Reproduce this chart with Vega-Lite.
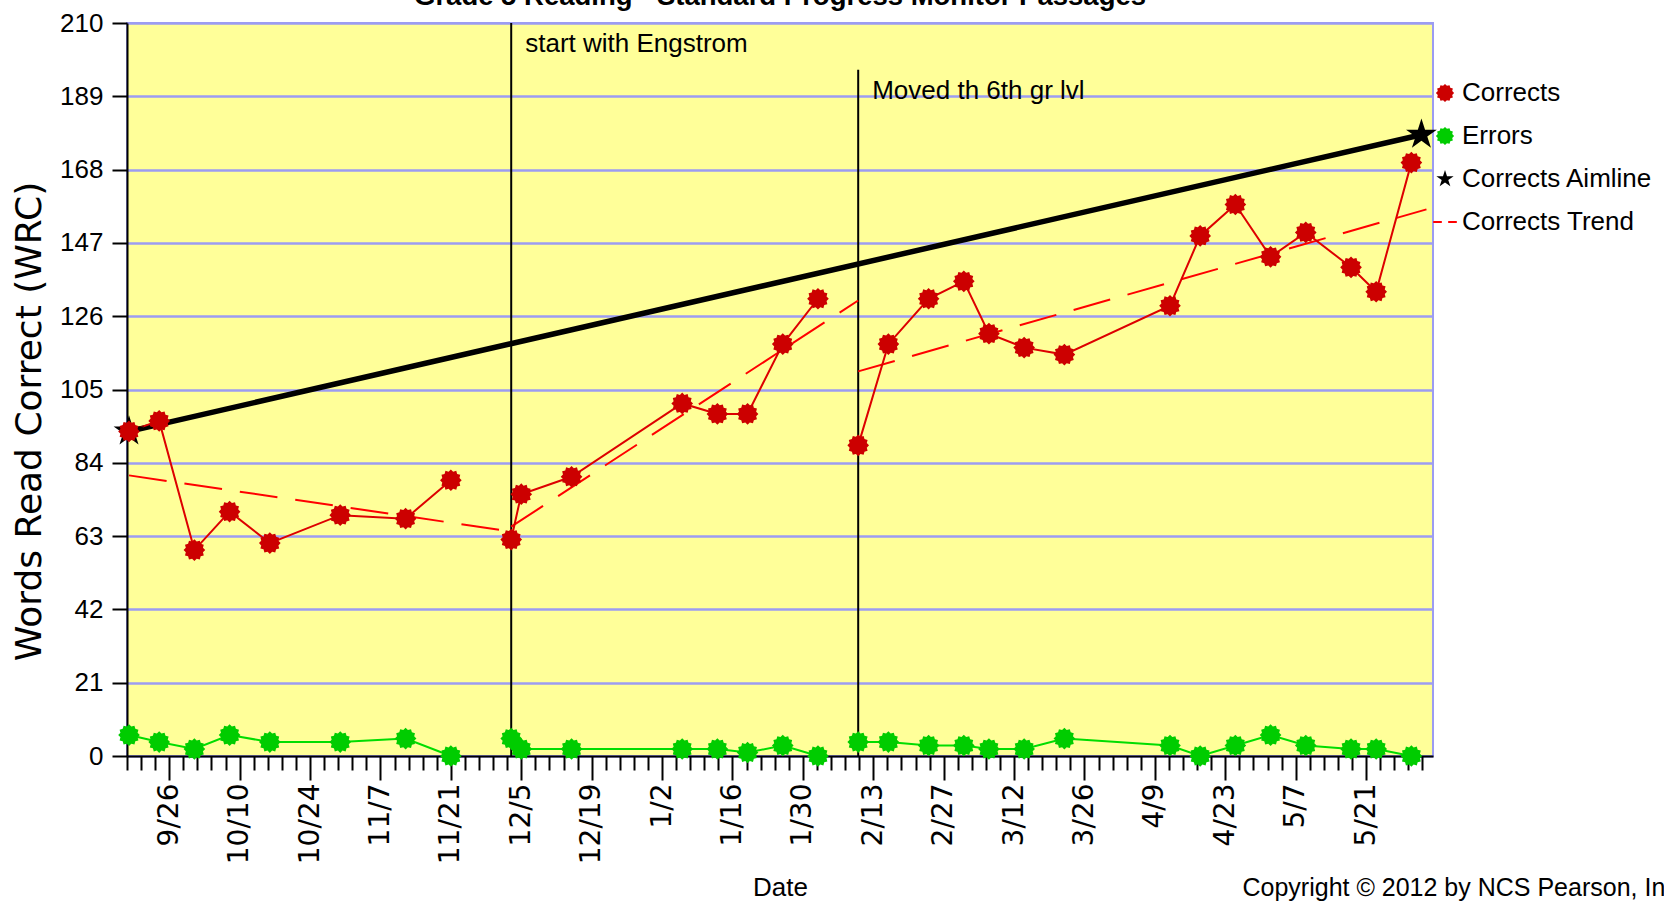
{
  "$schema": "https://vega.github.io/schema/vega-lite/v6.json",
  "width": 1306,
  "height": 733,
  "autosize": {"type": "none"},
  "padding": {"left": 127, "top": 23, "right": 231, "bottom": 145},
  "background": "white",
  "config": {
    "view": {"fill": "#ffff99", "stroke": "#9c9cf2", "strokeWidth": 2},
    "font": "Liberation Sans, Arial, sans-serif"
  },
  "title": {
    "text": "Grade 5 Reading - Standard Progress Monitor Passages",
    "anchor": "middle",
    "frame": "group",
    "font": "Liberation Sans, Arial, sans-serif",
    "fontSize": 27.5,
    "fontWeight": "bold",
    "color": "black",
    "offset": 0
  },
  "datasets": {
    "scores": [
      {"date": "2011-09-18", "phase": 1, "Corrects": 93, "Errors": 6},
      {"date": "2011-09-24", "phase": 1, "Corrects": 96, "Errors": 4},
      {"date": "2011-10-01", "phase": 1, "Corrects": 59, "Errors": 2},
      {"date": "2011-10-08", "phase": 1, "Corrects": 70, "Errors": 6},
      {"date": "2011-10-16", "phase": 1, "Corrects": 61, "Errors": 4},
      {"date": "2011-10-30", "phase": 1, "Corrects": 69, "Errors": 4},
      {"date": "2011-11-12", "phase": 1, "Corrects": 68, "Errors": 5},
      {"date": "2011-11-21", "phase": 1, "Corrects": 79, "Errors": 0},
      {"date": "2011-12-03", "phase": 2, "Corrects": 62, "Errors": 5},
      {"date": "2011-12-05", "phase": 2, "Corrects": 75, "Errors": 2},
      {"date": "2011-12-15", "phase": 2, "Corrects": 80, "Errors": 2},
      {"date": "2012-01-06", "phase": 2, "Corrects": 101, "Errors": 2},
      {"date": "2012-01-13", "phase": 2, "Corrects": 98, "Errors": 2},
      {"date": "2012-01-19", "phase": 2, "Corrects": 98, "Errors": 1},
      {"date": "2012-01-26", "phase": 2, "Corrects": 118, "Errors": 3},
      {"date": "2012-02-02", "phase": 2, "Corrects": 131, "Errors": 0},
      {"date": "2012-02-10", "phase": 3, "Corrects": 89, "Errors": 4},
      {"date": "2012-02-16", "phase": 3, "Corrects": 118, "Errors": 4},
      {"date": "2012-02-24", "phase": 3, "Corrects": 131, "Errors": 3},
      {"date": "2012-03-02", "phase": 3, "Corrects": 136, "Errors": 3},
      {"date": "2012-03-07", "phase": 3, "Corrects": 121, "Errors": 2},
      {"date": "2012-03-14", "phase": 3, "Corrects": 117, "Errors": 2},
      {"date": "2012-03-22", "phase": 3, "Corrects": 115, "Errors": 5},
      {"date": "2012-04-12", "phase": 3, "Corrects": 129, "Errors": 3},
      {"date": "2012-04-18", "phase": 3, "Corrects": 149, "Errors": 0},
      {"date": "2012-04-25", "phase": 3, "Corrects": 158, "Errors": 3},
      {"date": "2012-05-02", "phase": 3, "Corrects": 143, "Errors": 6},
      {"date": "2012-05-09", "phase": 3, "Corrects": 150, "Errors": 3},
      {"date": "2012-05-18", "phase": 3, "Corrects": 140, "Errors": 2},
      {"date": "2012-05-23", "phase": 3, "Corrects": 133, "Errors": 2},
      {"date": "2012-05-30", "phase": 3, "Corrects": 170, "Errors": 0}
    ],
    "trend": [
      {"date": "2011-09-18", "phase": 1, "value": 80.4},
      {"date": "2011-12-03", "phase": 1, "value": 64.3},
      {"date": "2011-12-03", "phase": 2, "value": 65.7},
      {"date": "2012-02-10", "phase": 2, "value": 130.5},
      {"date": "2012-02-10", "phase": 3, "value": 110.2},
      {"date": "2012-06-02", "phase": 3, "value": 156.6}
    ],
    "aim": [
      {"date": "2011-09-18", "value": 93, "series": "Corrects Aimline"},
      {"date": "2012-06-01", "value": 178, "series": "Corrects Aimline"}
    ],
    "phases": [
      {"date": "2011-12-03", "top": 210, "label": "start with Engstrom"},
      {"date": "2012-02-10", "top": 196.6, "label": "Moved th 6th gr lvl"}
    ]
  },
  "resolve": {"axis": {"x": "independent"}},
  "layer": [
    {
      "data": {"name": "phases"},
      "mark": {"type": "rule", "color": "black", "strokeWidth": 2},
      "encoding": {
        "x": {
          "field": "date", "type": "temporal",
          "scale": {"type": "utc", "domain": [1316269440000, 1338707520000]},
          "axis": {
            "values": {"expr": "sequence(1316269440000, 1338707520001, 241920000)"},
            "labelExpr": "abs((datum.value - 1316995200000) / 1209600000 - round((datum.value - 1316995200000) / 1209600000)) < 0.01 ? utcFormat(datum.value, '%-m/%-d') : ''",
            "labelAngle": 270,
            "labelFont": "DejaVu Sans",
            "labelFontSize": 28,
            "labelPadding": 3,
            "labelColor": "black",
            "labelOverlap": false,
            "labelBound": false,
            "labelFlush": false,
            "tickSize": {"condition": {"test": "abs((datum.value - 1316995200000) / 1209600000 - round((datum.value - 1316995200000) / 1209600000)) < 0.01", "value": 24}, "value": 14},
            "tickColor": "black",
            "tickWidth": 2,
            "domainColor": "black",
            "domainWidth": 2,
            "grid": false,
            "title": "Date",
            "titleFont": "Liberation Sans, Arial, sans-serif",
            "titleFontSize": 26,
            "titleFontWeight": "normal",
            "titleColor": "black",
            "titleX": 653,
            "titleY": 139,
            "titleAlign": "center",
            "titleBaseline": "alphabetic"
          }
        },
        "y": {
          "field": "top", "type": "quantitative",
          "scale": {"domain": [0, 210], "nice": false, "zero": false},
          "axis": {
            "values": [0, 21, 42, 63, 84, 105, 126, 147, 168, 189, 210],
            "grid": true,
            "gridColor": "#9c9cf2",
            "gridWidth": 2.5,
            "domainColor": "black",
            "domainWidth": 2,
            "tickColor": "black",
            "tickWidth": 2,
            "tickSize": 15,
            "labelPadding": 9,
            "labelFont": "Liberation Sans, Arial, sans-serif",
            "labelFontSize": 26,
            "labelColor": "black",
            "title": "Words Read Correct (WRC)",
            "titleFont": "DejaVu Sans",
            "titleFontSize": 36,
            "titleFontWeight": "normal",
            "titleColor": "black",
            "titleAngle": 270,
            "titleX": -98,
            "titleY": 398,
            "titleAlign": "center",
            "titleBaseline": "middle"
          }
        },
        "y2": {"datum": 0}
      }
    },
    {
      "data": {"name": "phases"},
      "mark": {"type": "text", "align": "left", "baseline": "top", "dx": 14, "dy": 8, "fontSize": 26, "color": "black", "font": "Liberation Sans, Arial, sans-serif"},
      "encoding": {
        "x": {
          "field": "date", "type": "temporal",
          "axis": {
            "orient": "bottom",
            "labels": false,
            "ticks": false,
            "domain": false,
            "grid": false,
            "title": "Copyright © 2012 by NCS Pearson, Inc",
            "titleX": 1115,
            "titleY": 139,
            "titleAlign": "left",
            "titleBaseline": "alphabetic",
            "titleFont": "Liberation Sans, Arial, sans-serif",
            "titleFontSize": 25,
            "titleFontWeight": "normal",
            "titleColor": "black",
            "titleLimit": 1000
          }
        },
        "y": {"field": "top", "type": "quantitative"},
        "text": {"field": "label"}
      }
    },
    {
      "data": {"name": "trend"},
      "mark": {"type": "line", "color": "#ff0000", "strokeWidth": 2, "strokeDash": [38, 18]},
      "encoding": {
        "x": {"field": "date", "type": "temporal", "axis": null},
        "y": {"field": "value", "type": "quantitative"},
        "detail": {"field": "phase"}
      }
    },
    {
      "data": {"name": "aim"},
      "mark": {"type": "line", "color": "black", "strokeWidth": 5.5},
      "encoding": {
        "x": {"field": "date", "type": "temporal", "axis": null},
        "y": {"field": "value", "type": "quantitative"}
      }
    },
    {
      "data": {"name": "scores"},
      "transform": [{"fold": ["Corrects", "Errors"], "as": ["series", "value"]}],
      "mark": {"type": "line", "strokeWidth": 2},
      "encoding": {
        "x": {"field": "date", "type": "temporal", "axis": null},
        "y": {"field": "value", "type": "quantitative"},
        "stroke": {"field": "series", "type": "nominal", "scale": {"domain": ["Corrects", "Errors"], "range": ["#dd0000", "#00dd00"]}, "legend": null},
        "detail": {"field": "phase"}
      }
    },
    {
      "data": {"name": "aim"},
      "mark": {"type": "point", "filled": true, "size": 1050, "opacity": 1},
      "encoding": {
        "x": {"field": "date", "type": "temporal", "axis": null},
        "y": {"field": "value", "type": "quantitative"},
        "color": {"field": "series", "type": "nominal"},
        "shape": {"field": "series", "type": "nominal"}
      }
    },
    {
      "data": {"name": "scores"},
      "transform": [{"fold": ["Corrects", "Errors"], "as": ["series", "value"]}],
      "mark": {"type": "point", "filled": true, "size": 470, "opacity": 1},
      "encoding": {
        "x": {"field": "date", "type": "temporal", "axis": null},
        "y": {"field": "value", "type": "quantitative"},
        "color": {
          "field": "series", "type": "nominal",
          "scale": {"domain": ["Corrects", "Errors", "Corrects Aimline", "Corrects Trend"], "range": ["#cc0000", "#00cc00", "#000000", "#ff0000"]},
          "legend": {"title": null, "orient": "none", "legendX": 1305, "legendY": 57, "padding": 0, "labelFont": "Liberation Sans, Arial, sans-serif", "labelFontSize": 26, "labelColor": "black", "labelLimit": 400, "symbolSize": 330, "rowPadding": 17, "labelOffset": 4, "symbolOpacity": 1}
        },
        "shape": {
          "field": "series", "type": "nominal",
          "scale": {"domain": ["Corrects", "Errors", "Corrects Aimline", "Corrects Trend"], "range": [
            "M1,0L0.792,0.212L0.866,0.5L0.58,0.58L0.5,0.866L0.212,0.792L0,1L-0.212,0.792L-0.5,0.866L-0.58,0.58L-0.866,0.5L-0.792,0.212L-1,0L-0.792,-0.212L-0.866,-0.5L-0.58,-0.58L-0.5,-0.866L-0.212,-0.792L0,-1L0.212,-0.792L0.5,-0.866L0.58,-0.58L0.866,-0.5L0.792,-0.212Z",
            "M1,0L0.792,0.212L0.866,0.5L0.58,0.58L0.5,0.866L0.212,0.792L0,1L-0.212,0.792L-0.5,0.866L-0.58,0.58L-0.866,0.5L-0.792,0.212L-1,0L-0.792,-0.212L-0.866,-0.5L-0.58,-0.58L-0.5,-0.866L-0.212,-0.792L0,-1L0.212,-0.792L0.5,-0.866L0.58,-0.58L0.866,-0.5L0.792,-0.212Z",
            "M0,-1L0.223,-0.307L0.951,-0.309L0.361,0.117L0.588,0.809L0,0.38L-0.588,0.809L-0.361,0.117L-0.951,-0.309L-0.223,-0.307Z",
            "M-1.3,-0.12H-0.35V0.12H-1.3ZM0.35,-0.12H1.3V0.12H0.35Z"
          ]},
          "legend": {"title": null, "orient": "none", "legendX": 1305, "legendY": 57, "padding": 0, "labelFont": "Liberation Sans, Arial, sans-serif", "labelFontSize": 26, "labelColor": "black", "labelLimit": 400, "symbolSize": 330, "rowPadding": 17, "labelOffset": 4, "symbolOpacity": 1}
        }
      }
    }
  ]
}
